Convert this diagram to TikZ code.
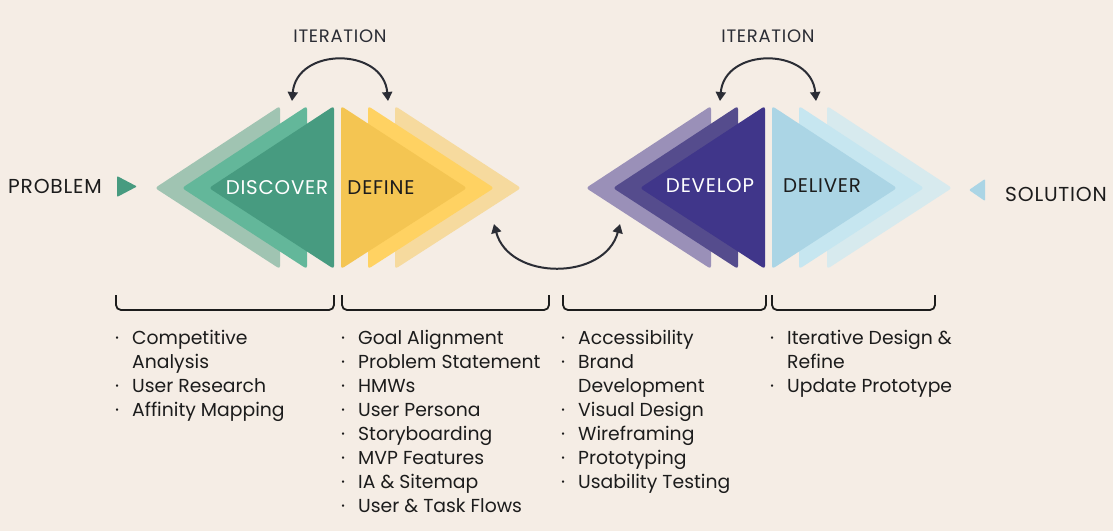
\documentclass[tikz,border=0pt]{standalone}
\usepackage{fontspec}
\setmainfont{Poppins}
\newfontfamily\phasefont{Poppins}[LetterSpace=4]
\usetikzlibrary{arrows.meta}

\definecolor{paper}{HTML}{F5EDE5}
\definecolor{ink}{HTML}{1C1C1C}
\definecolor{arc}{HTML}{2B2D35}
\definecolor{discA}{HTML}{A0C4B2}
\definecolor{discB}{HTML}{63B79A}
\definecolor{discC}{HTML}{479B80}
\definecolor{defA}{HTML}{F4C552}
\definecolor{defB}{HTML}{FFD262}
\definecolor{defC}{HTML}{F6DA9E}
\definecolor{devA}{HTML}{9A90B8}
\definecolor{devB}{HTML}{554C8D}
\definecolor{devC}{HTML}{40368A}
\definecolor{delA}{HTML}{ABD5E5}
\definecolor{delB}{HTML}{C6E6F0}
\definecolor{delC}{HTML}{D7EAEE}

\begin{document}
\begin{tikzpicture}[x=1pt, y=-1pt]
        \tikzstyle{phase}=[inner sep=0, font=\phasefont\fontsize{19.8}{20}\selectfont]
        \tikzstyle{side}=[inner sep=0, text=ink, font=\phasefont\fontsize{20.2}{20}\selectfont]
        \tikzstyle{iter}=[inner sep=0, text=arc, font=\phasefont\fontsize{18}{18}\selectfont]
        \tikzstyle{list}=[inner sep=0, anchor=base west, text=ink, font=\fontsize{18.8}{24}\selectfont]
        \tikzstyle{bracket}=[draw=ink, line width=1.8pt, rounded corners=5pt]
        \tikzstyle{loop}=[draw=arc, line width=2pt, {Triangle[length=9pt,width=10pt]}-{Triangle[length=9pt,width=10pt]}]

        \fill[paper] (0,0) rectangle (1113,531);
        \useasboundingbox (0,0) rectangle (1113,531);

        % the four diamonds
        \foreach \dx/\col in {0/discA, 27/discB, 54/discC}
            \fill[\col, rounded corners=3pt] (280+\dx,106) -- (280+\dx,269) -- (155+\dx,188) -- cycle;
        \foreach \dx/\col in {54/defC, 27/defB, 0/defA}
            \fill[\col, rounded corners=3pt] (341+\dx,106) -- (341+\dx,269) -- (467+\dx,188) -- cycle;
        \foreach \dx/\col in {0/devA, 27/devB, 54/devC}
            \fill[\col, rounded corners=3pt] (711+\dx,106) -- (711+\dx,269) -- (586+\dx,188) -- cycle;
        \foreach \dx/\col in {55/delC, 27/delB, 0/delA}
            \fill[\col, rounded corners=3pt] (772+\dx,106) -- (772+\dx,269) -- (897+\dx,188) -- cycle;

        \node (discover) [phase, text=white] at (277,188) {DISCOVER};
        \node (define)   [phase, text=ink]   at (381,188) {DEFINE};
        \node (develop)  [phase, text=white] at (710,186) {DEVELOP};
        \node (deliver)  [phase, text=ink]   at (822,186) {DELIVER};

        % start and end
        \node (problem)  [side] at (55,186) {PROBLEM};
        \fill[discC, rounded corners=1pt] (117,176) -- (117,197) -- (137,186.5) -- cycle;
        \node (solution) [side] at (1056,194) {SOLUTION};
        \fill[delA, rounded corners=1pt] (985,179) -- (985,201) -- (969,190) -- cycle;

        % iterations
        \node (iterA) [iter] at (340,36) {ITERATION};
        \node (iterB) [iter] at (768,36) {ITERATION};
        \coordinate (a1) at (292,101);
        \coordinate (a2) at (388,101);
        \coordinate (b1) at (720,101);
        \coordinate (b2) at (816,101);
        \coordinate (c1) at (494,224);
        \coordinate (c2) at (620,224);
        \path[loop] (a1) to[out=85, in=95, looseness=1.45] (a2);
        \path[loop] (b1) to[out=85, in=95, looseness=1.45] (b2);
        \path[loop] (c1) to[out=-75, in=-105, looseness=1.2] (c2);

        % brackets
        \draw[bracket] (116,295) -- (116,310) -- (334,310) -- (334,295);
        \draw[bracket] (342,295) -- (342,310) -- (549,310) -- (549,295);
        \draw[bracket] (563,295) -- (563,310) -- (766,310) -- (766,295);
        \draw[bracket] (772,295) -- (772,310) -- (935,310) -- (935,295);

        % lists
        \node (discoverlist) [list] at (115,344.5) {\begin{tabular}[t]{@{}p{17pt}@{}l@{}}
            · & Competitive\\ & Analysis\\ · & User Research\\ · & Affinity Mapping
        \end{tabular}};
        \node (definelist) [list] at (341,344.5) {\begin{tabular}[t]{@{}p{17pt}@{}l@{}}
            · & Goal Alignment\\ · & Problem Statement\\ · & HMWs\\ · & User Persona\\
            · & Storyboarding\\ · & MVP Features\\ · & IA \& Sitemap\\ · & User \& Task Flows
        \end{tabular}};
        \node (developlist) [list] at (561,344.5) {\begin{tabular}[t]{@{}p{17pt}@{}l@{}}
            · & Accessibility\\ · & Brand\\ & Development\\ · & Visual Design\\
            · & Wireframing\\ · & Prototyping\\ · & Usability Testing
        \end{tabular}};
        \node (deliverlist) [list] at (770,344.5) {\begin{tabular}[t]{@{}p{17pt}@{}l@{}}
            · & Iterative Design \&\\ & Refine\\ · & Update Prototype
        \end{tabular}};
    \end{tikzpicture}
\end{document}
